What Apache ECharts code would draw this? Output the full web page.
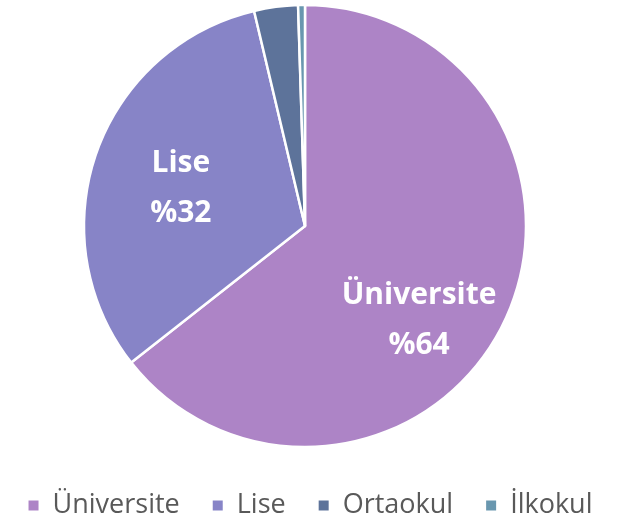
<!DOCTYPE html>
<html>
<head>
<meta charset="utf-8">
<script src="https://cdn.jsdelivr.net/npm/echarts@6/dist/echarts.min.js"></script>
<style>
  html, body { margin: 0; padding: 0; background: #fff; }
  #main { width: 621px; height: 519px; }
</style>
</head>
<body>
<div id="main"></div>
<script>
// egitim durumu dagilimi (yuzde)
var categories = ["Üniversite", "Lise", "Ortaokul", "İlkokul"];
var values = [64.4, 31.9, 3.2, 0.5];
var colors = ["#ad84c6", "#8784c7", "#5d739a", "#6997af"];
var labelOffsets = [[12, 45], [-17, 0], [0, 0], [0, 0]];

var chart = echarts.init(document.getElementById("main"));

var data = categories.map(function (name, i) {
  return {
    name: name,
    value: values[i],
    itemStyle: { color: colors[i] },
    label: { show: i < 2, offset: labelOffsets[i] }
  };
});

chart.setOption({
  animation: false,
  legend: {
    data: categories,
    top: 487,
    left: "center",
    icon: "rect",
    itemWidth: 10,
    itemHeight: 10,
    itemGap: 33,
    itemStyle: { borderColor: "transparent", borderWidth: 0 },
    textStyle: {
      fontFamily: "Open Sans",
      fontSize: 27,
      color: "#595959",
      padding: [0, 0, 0, 9]
    }
  },
  series: [
    {
      type: "pie",
      center: [305, 226],
      radius: 221,
      startAngle: 90,
      clockwise: true,
      data: data,
      itemStyle: { borderColor: "#fff", borderWidth: 2.5 },
      label: {
        position: "inside",
        formatter: function (p) {
          return p.name + "\n%" + Math.round(p.value);
        },
        color: "#fff",
        fontFamily: "Open Sans",
        fontWeight: "bold",
        fontSize: 30,
        lineHeight: 50
      },
      labelLine: { show: false }
    }
  ]
});
</script>
</body>
</html>
